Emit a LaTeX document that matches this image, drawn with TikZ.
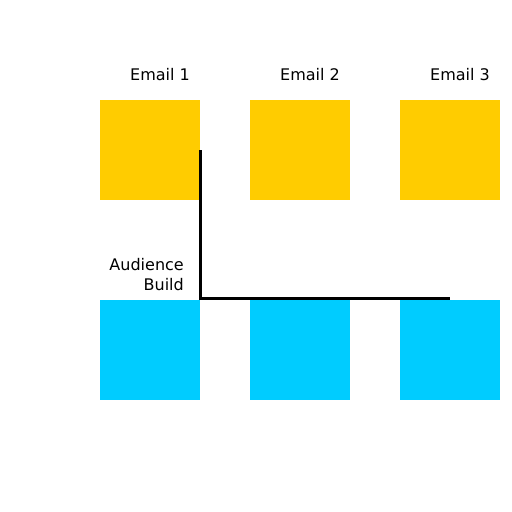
\documentclass[tikz,border=0pt]{standalone}
\usepackage{fontspec}
\setmainfont{DejaVu Sans}
\begin{document}
\begin{tikzpicture}[x=1pt,y=-1pt,
  ybox/.style={fill={rgb,255:red,255;green,204;blue,0}, draw=none, minimum width=100pt, minimum height=100pt, inner sep=0pt, anchor=north west},
  bbox/.style={fill={rgb,255:red,0;green,204;blue,255}, draw=none, minimum width=100pt, minimum height=100pt, inner sep=0pt, anchor=north west},
  lbl/.style={font=\fontsize{16}{20}\selectfont, inner sep=0pt},
  conn/.style={draw=black, line width=3pt}]
\useasboundingbox (0,0) rectangle (512,512);
\node[ybox] (y1) at (100,100) {};
\node[ybox] (y2) at (250,100) {};
\node[ybox] (y3) at (400,100) {};
\node[bbox] (b1) at (100,300) {};
\node[bbox] (b2) at (250,300) {};
\node[bbox] (b3) at (400,300) {};
\coordinate (s) at (200.5,150);
\coordinate (c) at (200.5,298.5);
\coordinate (e) at (450,298.5);
\draw[conn] (s) -- (c) -- (e);
\node[lbl, anchor=base] (t1) at (160,80) {Email 1};
\node[lbl, anchor=base] (t2) at (310,80) {Email 2};
\node[lbl, anchor=base] (t3) at (460,80) {Email 3};
\node[lbl, anchor=base east, align=right] (ab) at (184,290) {Audience\\Build};
\end{tikzpicture}
\end{document}
